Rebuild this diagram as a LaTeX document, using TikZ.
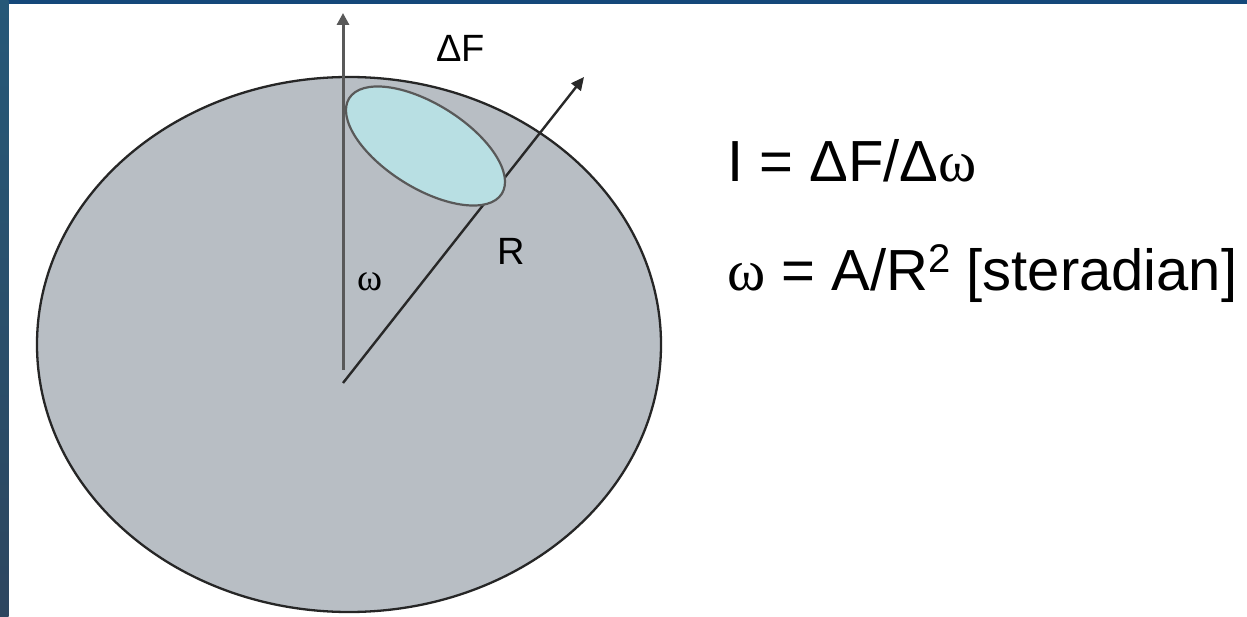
\documentclass[tikz,border=0pt]{standalone}
\usepackage{fontspec}
\setmainfont{Liberation Sans}
\newfontfamily\grk{Liberation Serif}
\usetikzlibrary{arrows.meta}
\definecolor{slideblue}{RGB}{21,72,122}
\definecolor{sideblue}{RGB}{38,88,120}
\definecolor{sidebot}{RGB}{45,70,95}
\definecolor{globe}{RGB}{184,190,196}
\definecolor{patch}{RGB}{184,223,227}
\definecolor{rayline}{RGB}{40,40,40}
\tikzset{
  globeshape/.style={fill=globe, draw=black!85, line width=2.3pt},
  patchshape/.style={fill=patch, draw=black!65, line width=2.2pt},
  ray/.style={draw=rayline, line width=2.4pt, -{Triangle[length=13pt,width=12pt]}},
  vray/.style={draw=black!65, line width=3pt, -{Triangle[length=12pt,width=12pt]}},
  lbl/.style={inner sep=0pt, anchor=base west, font=\fontsize{38}{40}\selectfont},
  formula/.style={inner sep=0pt, anchor=base west, font=\fontsize{58}{62}\selectfont}
}
\begin{document}
\begin{tikzpicture}[x=1pt,y=-1pt]
\useasboundingbox (0,0) rectangle (1247,617);
\fill[white] (0,0) rectangle (1247,617);
\fill[slideblue] (0,0) rectangle (1247,4);
\shade[top color=sideblue, bottom color=sidebot] (0,0) rectangle (8.5,617);
% globe
\coordinate (C) at (349,344.5);
\draw[globeshape] (C) ellipse [x radius=312pt, y radius=267.5pt];
% rays
\coordinate (D0) at (343,383);
\coordinate (D1) at (584,77);
\coordinate (V0) at (343,370);
\coordinate (V1) at (343,13);
\draw[ray] (D0) -- (D1);
% patch
\draw[patchshape, shift={(425.5,146)}, rotate=-32] (0,0) ellipse [x radius=90pt, y radius=42pt];
\draw[vray] (V0) -- (V1);
% labels
\node[lbl] (dF) at (436,62) {Δ{}F};
\node[lbl] (R) at (497,265) {R};
\node[lbl] (w) at (357,291) {\grk ω};
\node[formula] (f1) at (727,182) {I = ΔF/Δ{\grk ω}};
\node[formula] (f2) at (727,291) {{\grk ω} = A/R\raisebox{0.32em}{\fontsize{40}{42}\selectfont 2} [steradian]};
\end{tikzpicture}
\end{document}
